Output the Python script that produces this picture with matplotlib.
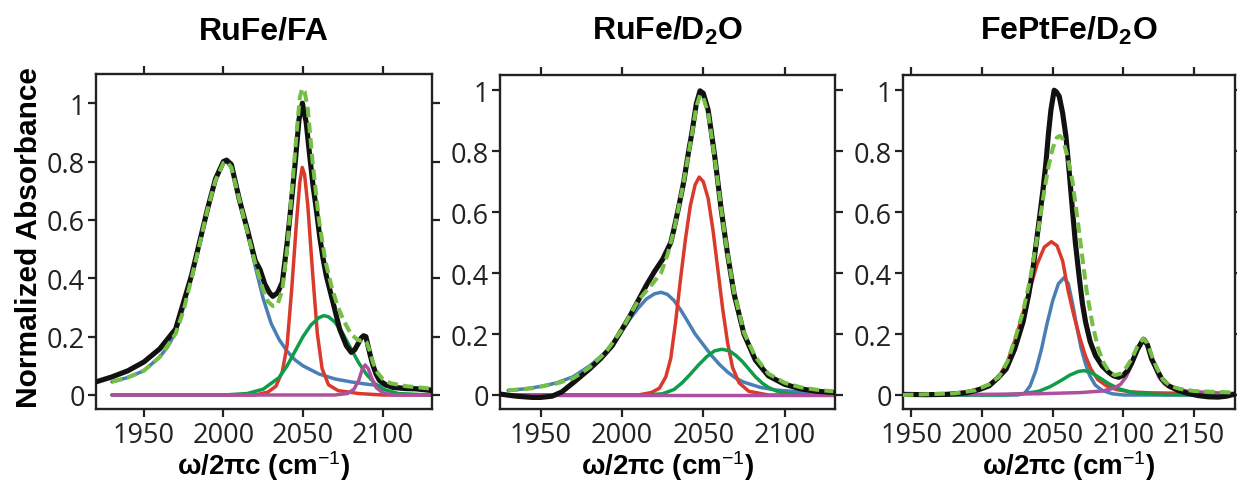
import matplotlib
matplotlib.use("Agg")
import matplotlib.pyplot as plt

plt.rcParams['mathtext.fontset'] = 'custom'
plt.rcParams['mathtext.rm'] = 'Liberation Sans'
plt.rcParams['mathtext.bf'] = 'Liberation Sans:bold'
plt.rcParams['mathtext.it'] = 'Liberation Sans:italic'

# ---------------- data ----------------
titles = ["RuFe/FA", "RuFe/D$_{\\mathbf{2}}$O", "FePtFe/D$_{\\mathbf{2}}$O"]
xlims = [(1920, 2131), (1925, 2131), (1944, 2179)]
ylims = [(-0.048, 1.1), (-0.046, 1.05), (-0.046, 1.05)]
xticks = [[1950, 2000, 2050, 2100], [1950, 2000, 2050, 2100], [1950, 2000, 2050, 2100, 2150]]
yticks = [0, 0.2, 0.4, 0.6, 0.8, 1.0]
ytick_labels = ["0", "0.2", "0.4", "0.6", "0.8", "1"]

# Panel 1: RuFe/FA
p1_exp_x = [1920, 1930, 1940, 1950, 1960, 1970, 1975, 1980, 1985, 1990, 1995, 2000, 2002, 2005, 2010,
            2015, 2020, 2023, 2026, 2029, 2031, 2034, 2037, 2040, 2042.5, 2045, 2047.5, 2049.6, 2052, 2054,
            2056.3, 2058.5, 2060.4, 2062.5, 2064.6, 2068.8, 2073, 2077.2, 2080.3, 2082.5, 2084.5, 2086.5,
            2088, 2089.5, 2090.8, 2092.5, 2094, 2096, 2098, 2102, 2106.5, 2114, 2121, 2131]
p1_exp_y = [0.045, 0.062, 0.083, 0.113, 0.158, 0.226, 0.318, 0.41, 0.523, 0.637, 0.74, 0.80, 0.805, 0.79, 0.67,
            0.568, 0.46, 0.43, 0.38, 0.35, 0.338, 0.35, 0.386, 0.52, 0.65, 0.79, 0.945, 1.0, 0.934, 0.83,
            0.717, 0.63, 0.546, 0.47, 0.409, 0.318, 0.226, 0.169, 0.146, 0.155, 0.175, 0.195,
            0.203, 0.2, 0.169, 0.13, 0.10, 0.07, 0.05, 0.035, 0.026, 0.022, 0.021, 0.015]
p1_fit_x = [1930, 1940, 1950, 1960, 1970, 1975, 1980, 1985, 1990, 1995, 2000, 2002, 2005, 2010, 2015, 2020,
            2025, 2028, 2031, 2034, 2037, 2040, 2043, 2046, 2048, 2049.5, 2051, 2053, 2056, 2060, 2064, 2068,
            2072, 2076, 2080, 2084, 2086, 2088, 2090, 2092, 2094, 2097, 2100, 2105, 2115, 2130]
p1_fit_y = [0.045, 0.06, 0.083, 0.13, 0.21, 0.29, 0.40, 0.515, 0.635, 0.735, 0.795, 0.80, 0.78, 0.67, 0.56, 0.45,
            0.36, 0.32, 0.305, 0.31, 0.36, 0.50, 0.70, 0.90, 1.02, 1.05, 1.04, 0.98, 0.80, 0.60, 0.46, 0.37,
            0.30, 0.25, 0.21, 0.19, 0.186, 0.19, 0.18, 0.15, 0.11, 0.075, 0.055, 0.04, 0.03, 0.022]
p1_blue_x = [1930, 1940, 1950, 1960, 1965, 1970, 1975, 1980, 1985, 1990, 1995, 2000, 2002, 2005, 2010, 2015,
             2020, 2025, 2030, 2035, 2040, 2045, 2050, 2060, 2070, 2080, 2090, 2100, 2115, 2130]
p1_blue_y = [0.045, 0.06, 0.083, 0.13, 0.165, 0.215, 0.30, 0.41, 0.52, 0.635, 0.735, 0.795, 0.80, 0.78, 0.68, 0.56,
             0.44, 0.33, 0.245, 0.19, 0.15, 0.12, 0.10, 0.072, 0.055, 0.045, 0.037, 0.031, 0.025, 0.021]
p1_red_x = [1930, 2020, 2028, 2033, 2037, 2040, 2043, 2046, 2048, 2049.5, 2051, 2053, 2056, 2059, 2062, 2066,
            2072, 2085, 2100, 2130]
p1_red_y = [0.0, 0.0, 0.01, 0.03, 0.08, 0.17, 0.37, 0.60, 0.73, 0.78, 0.755, 0.65, 0.42, 0.21, 0.09, 0.035,
            0.015, 0.005, 0.0, 0.0]
p1_green_x = [1930, 2000, 2015, 2025, 2035, 2040, 2045, 2050, 2055, 2060, 2063, 2066, 2070, 2075, 2080, 2085,
              2090, 2095, 2100, 2110, 2130]
p1_green_y = [0.0, 0.0, 0.005, 0.02, 0.06, 0.10, 0.15, 0.20, 0.24, 0.265, 0.272, 0.268, 0.25, 0.21, 0.16, 0.11,
              0.07, 0.04, 0.02, 0.005, 0.0]
p1_mag_x = [1930, 2070, 2078, 2082, 2085, 2087, 2089, 2091, 2093, 2096, 2100, 2106, 2130]
p1_mag_y = [0.0, 0.0, 0.005, 0.02, 0.05, 0.085, 0.103, 0.09, 0.06, 0.025, 0.008, 0.0, 0.0]

# Panel 2: RuFe/D2O
p2_exp_x = [1925, 1935, 1945, 1950, 1957, 1963, 1970, 1980, 1987, 1994, 2000, 2005, 2010, 2015, 2020, 2025,
            2030, 2032, 2035, 2038, 2041, 2043, 2045.7, 2048, 2050, 2053, 2057, 2061, 2065, 2069, 2075, 2082,
            2090, 2100, 2110, 2120, 2131]
p2_exp_y = [0.003, -0.004, -0.008, -0.008, -0.004, 0.01, 0.04, 0.085, 0.12, 0.162, 0.215, 0.26, 0.31, 0.36,
            0.405, 0.445, 0.50, 0.545, 0.62, 0.70, 0.80, 0.86, 0.955, 0.998, 0.99, 0.935, 0.785, 0.61, 0.46,
            0.33, 0.20, 0.115, 0.063, 0.035, 0.02, 0.012, 0.008]
p2_fit_x = [1930, 1945, 1960, 1970, 1980, 1990, 2000, 2010, 2018, 2024, 2028, 2032, 2035, 2038, 2041, 2043,
            2045.7, 2048, 2050, 2053, 2057, 2061, 2065, 2069, 2075, 2082, 2090, 2100, 2110, 2120, 2130]
p2_fit_y = [0.015, 0.022, 0.038, 0.055, 0.09, 0.14, 0.215, 0.31, 0.36, 0.40, 0.46, 0.54, 0.62, 0.70, 0.795,
            0.855, 0.945, 0.985, 0.975, 0.925, 0.78, 0.61, 0.46, 0.335, 0.205, 0.125, 0.07, 0.04, 0.025,
            0.017, 0.012]
p2_blue_x = [1930, 1940, 1950, 1960, 1970, 1980, 1990, 1995, 2000, 2005, 2010, 2015, 2020, 2024, 2028, 2032,
             2036, 2040, 2045, 2050, 2055, 2060, 2065, 2070, 2075, 2085, 2095, 2110, 2130]
p2_blue_y = [0.015, 0.02, 0.028, 0.04, 0.06, 0.095, 0.14, 0.17, 0.21, 0.25, 0.285, 0.315, 0.332, 0.337, 0.33,
             0.31, 0.28, 0.245, 0.20, 0.165, 0.13, 0.10, 0.075, 0.055, 0.042, 0.025, 0.016, 0.01, 0.007]
p2_red_x = [1930, 2010, 2018, 2023, 2027, 2030, 2033, 2036, 2039, 2042, 2045, 2047.5, 2050, 2053, 2056, 2059,
            2062, 2065, 2068, 2072, 2078, 2090, 2130]
p2_red_y = [0.0, 0.0, 0.008, 0.022, 0.06, 0.12, 0.24, 0.38, 0.51, 0.62, 0.69, 0.715, 0.70, 0.645, 0.54, 0.41,
            0.28, 0.17, 0.09, 0.04, 0.012, 0.0, 0.0]
p2_green_x = [1930, 2015, 2025, 2032, 2037, 2042, 2047, 2052, 2057, 2061.5, 2066, 2070, 2074, 2078, 2082,
              2086, 2090, 2095, 2100, 2110, 2130]
p2_green_y = [0.0, 0.0, 0.004, 0.018, 0.04, 0.068, 0.098, 0.125, 0.145, 0.15, 0.145, 0.13, 0.11, 0.085, 0.06,
              0.04, 0.025, 0.013, 0.006, 0.0, 0.0]
p2_mag_x = [1930, 2130]
p2_mag_y = [0.0, 0.0]

# Panel 3: FePtFe/D2O
p3_exp_x = [1944, 1960, 1975, 1989, 1998, 2005, 2011, 2017, 2023, 2029, 2033, 2036, 2040.5, 2043, 2045.2,
            2047, 2048.7, 2051, 2052.5, 2054.6, 2057, 2059.3, 2061.5, 2063.9, 2066, 2068.6, 2071, 2073.3,
            2076.5, 2080.3, 2085, 2089.7, 2093, 2096.7, 2100, 2103, 2106, 2110, 2114.2, 2117, 2120, 2124,
            2127.1, 2132, 2138.8, 2145, 2152.8, 2160, 2167, 2173, 2179]
p3_exp_y = [0.002, 0.001, 0.002, 0.007, 0.018, 0.03, 0.055, 0.085, 0.15, 0.24, 0.33, 0.415, 0.577, 0.67, 0.763,
            0.86, 0.935, 1.0, 0.995, 0.98, 0.925, 0.85, 0.74, 0.61, 0.50, 0.392, 0.30, 0.238,
            0.175, 0.129, 0.095, 0.074, 0.063, 0.058, 0.065, 0.08, 0.106, 0.15, 0.183, 0.165, 0.118, 0.08,
            0.053, 0.03, 0.015, 0.006, -0.002, -0.006, -0.007, -0.004, 0.003]
p3_fit_x = [1944, 1980, 1995, 2005, 2012, 2018, 2024, 2029, 2034, 2038, 2041, 2044, 2047, 2050, 2053, 2055,
            2057, 2060, 2064, 2068, 2071, 2074, 2078, 2082, 2086, 2090, 2094, 2098, 2102, 2106, 2110, 2114,
            2117, 2120, 2124, 2128, 2133, 2140, 2150, 2165, 2179]
p3_fit_y = [0.0, 0.005, 0.015, 0.035, 0.06, 0.11, 0.195, 0.275, 0.38, 0.49, 0.58, 0.67, 0.75, 0.81, 0.845, 0.85,
            0.84, 0.79, 0.70, 0.56, 0.45, 0.34, 0.235, 0.155, 0.105, 0.075, 0.065, 0.07, 0.09, 0.12, 0.16, 0.185,
            0.17, 0.13, 0.085, 0.05, 0.03, 0.02, 0.013, 0.01, 0.008]
p3_blue_x = [1944, 2025, 2030, 2034, 2038, 2042, 2046, 2050, 2054, 2058, 2061, 2064, 2067, 2070, 2073, 2076,
             2080, 2085, 2092, 2100, 2179]
p3_blue_y = [0.0, 0.0, 0.005, 0.03, 0.08, 0.15, 0.235, 0.31, 0.365, 0.385, 0.365, 0.30, 0.225, 0.155, 0.105,
             0.065, 0.033, 0.015, 0.004, 0.0, 0.0]
p3_red_x = [1944, 1980, 1995, 2005, 2012, 2018, 2024, 2029, 2034, 2039, 2044, 2049, 2053, 2057, 2061, 2065,
            2069, 2073, 2077, 2082, 2088, 2095, 2105, 2120, 2150, 2179]
p3_red_y = [0.0, 0.005, 0.015, 0.035, 0.06, 0.11, 0.19, 0.27, 0.35, 0.43, 0.485, 0.503, 0.49, 0.44, 0.34, 0.26,
            0.19, 0.13, 0.085, 0.05, 0.03, 0.018, 0.01, 0.007, 0.005, 0.004]
p3_green_x = [1944, 2015, 2030, 2040, 2048, 2055, 2062, 2068, 2072, 2077, 2083, 2090, 2097, 2105, 2115, 2130, 2179]
p3_green_y = [0.0, 0.0, 0.005, 0.012, 0.027, 0.045, 0.065, 0.077, 0.08, 0.074, 0.057, 0.036, 0.02, 0.01, 0.004,
              0.001, 0.0]
p3_mag_x = [1944, 2000, 2040, 2070, 2085, 2093, 2098, 2102, 2106, 2110, 2113, 2114.5, 2116, 2119, 2122, 2125,
            2129, 2135, 2145, 2160, 2179]
p3_mag_y = [0.0, 0.002, 0.004, 0.008, 0.013, 0.022, 0.035, 0.06, 0.10, 0.15, 0.18, 0.185, 0.178, 0.14, 0.095,
            0.06, 0.036, 0.022, 0.013, 0.008, 0.005]

panels = [
    dict(exp=(p1_exp_x, p1_exp_y), fit=(p1_fit_x, p1_fit_y), blue=(p1_blue_x, p1_blue_y),
         red=(p1_red_x, p1_red_y), green=(p1_green_x, p1_green_y), mag=(p1_mag_x, p1_mag_y)),
    dict(exp=(p2_exp_x, p2_exp_y), fit=(p2_fit_x, p2_fit_y), blue=(p2_blue_x, p2_blue_y),
         red=(p2_red_x, p2_red_y), green=(p2_green_x, p2_green_y), mag=(p2_mag_x, p2_mag_y)),
    dict(exp=(p3_exp_x, p3_exp_y), fit=(p3_fit_x, p3_fit_y), blue=(p3_blue_x, p3_blue_y),
         red=(p3_red_x, p3_red_y), green=(p3_green_x, p3_green_y), mag=(p3_mag_x, p3_mag_y)),
]

# ---------------- style ----------------
C_BLUE = "#4a7fb5"
C_RED = "#d93a2b"
C_GREEN = "#0f9d4a"
C_MAG = "#b04f9f"
C_FIT = "#74bf44"
C_EXP = "#111111"

W, H = 1237, 489
boxes = [(96, 75, 432, 410), (500, 76, 835, 410), (903, 76, 1235, 410)]

fig = plt.figure(figsize=(W / 100, H / 100), dpi=100)
fig.patch.set_facecolor("white")

for i, (l, t, r, b) in enumerate(boxes):
    ax = fig.add_axes([l / W, 1 - b / H, (r - l) / W, (b - t) / H])
    d = panels[i]
    ax.plot(*d["blue"], color=C_BLUE, lw=2.5, solid_capstyle="round", solid_joinstyle="round", zorder=2)
    ax.plot(*d["red"], color=C_RED, lw=2.5, solid_capstyle="round", solid_joinstyle="round", zorder=2)
    ax.plot(*d["green"], color=C_GREEN, lw=2.5, solid_capstyle="round", solid_joinstyle="round", zorder=2)
    ax.plot(*d["mag"], color=C_MAG, lw=2.5, solid_capstyle="round", solid_joinstyle="round", zorder=2.5)
    ax.plot(*d["exp"], color=C_EXP, lw=3.7, solid_joinstyle="round", zorder=3)
    ax.plot(*d["fit"], color=C_FIT, lw=2.9, dashes=(2.6, 1.3), zorder=4)

    ax.set_xlim(*xlims[i])
    ax.set_ylim(*ylims[i])
    ax.set_xticks(xticks[i])
    ax.set_xticklabels([str(v) for v in xticks[i]], fontfamily="Open Sans", fontsize=19.5)
    ax.set_yticks(yticks)
    ax.set_yticklabels(ytick_labels, fontfamily="Open Sans", fontsize=19.5)
    ax.tick_params(direction="out", length=6, width=1.6, top=True, right=True,
                   labeltop=False, labelright=False, color="#222222", labelcolor="#222222")
    ax.tick_params(axis="x", pad=2.5)
    ax.tick_params(axis="y", pad=2)
    for sp in ax.spines.values():
        sp.set_linewidth(1.7)
        sp.set_color("#222222")

    cx = (l + r) / 2 / W
    fig.text(cx, 1 - 31 / H, titles[i], ha="center", va="center", fontsize=23,
             fontweight="bold", fontfamily="Liberation Sans")
    fig.text(cx, 1 - 466 / H, "ω/2πc (cm$^{-1}$)", ha="center", va="center", fontsize=20,
             fontweight="bold", fontfamily="Liberation Sans")

fig.text(29 / W, 1 - 238 / H, "Normalized Absorbance", rotation=90, ha="center", va="center",
         fontsize=21.5, fontweight="bold", fontfamily="Liberation Sans")

fig.savefig("out.png", dpi=100, facecolor="white")
